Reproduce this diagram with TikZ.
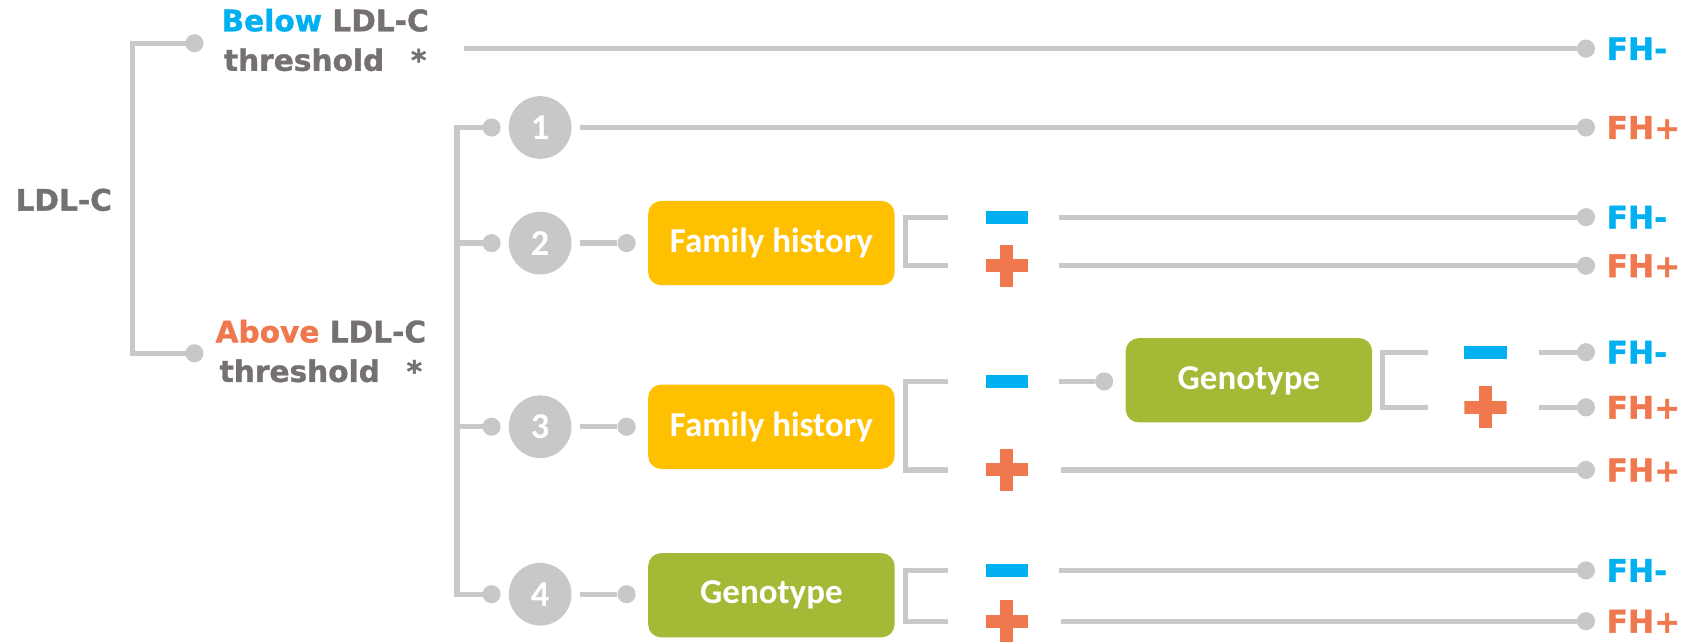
\documentclass[tikz,border=0pt]{standalone}
\usepackage{fontspec}
\usepackage{tikz}
\usetikzlibrary{calc}
\newfontfamily\lblfont{DejaVu Sans}[BoldFeatures={FakeBold=1.2}]
\newfontfamily\boxfont{Carlito}
\definecolor{lgrey}{HTML}{C8C8C8}
\definecolor{dgrey}{HTML}{767171}
\definecolor{fhblue}{HTML}{00B0F0}
\definecolor{fhorange}{HTML}{F0784F}
\definecolor{fhyellow}{HTML}{FFC000}
\definecolor{fhgreen}{HTML}{A5B936}
\tikzset{
  conn/.style={draw=lgrey, line width=0.12cm},
  dot/.style={circle, fill=lgrey, inner sep=0, minimum size=0.42cm},
  numcirc/.style={circle, fill=lgrey, inner sep=0, minimum size=1.45cm, text=white,
    font=\boxfont\bfseries\fontsize{24}{24}\selectfont},
  fhbox/.style={rounded corners=0.3cm, fill=fhyellow, minimum width=5.7cm, minimum height=1.95cm,
    text=white, font=\boxfont\bfseries\fontsize{23}{23}\selectfont},
  genbox/.style={fhbox, fill=fhgreen},
  lbl/.style={text=dgrey, font=\lblfont\bfseries\fontsize{19.5}{26}\selectfont, align=center, inner sep=0},
  fhlbl/.style={anchor=west, inner sep=0, font=\lblfont\bfseries\fontsize{20.5}{20.5}\selectfont},
  minussign/.style={fill=fhblue, inner sep=0, minimum width=0.975cm, minimum height=0.3cm},
  plussign/.style={inner sep=0, minimum size=0.975cm, path picture={
    \fill[fhorange] ([yshift=-0.15cm]path picture bounding box.west) rectangle ([yshift=0.15cm]path picture bounding box.east);
    \fill[fhorange] ([xshift=-0.15cm]path picture bounding box.south) rectangle ([xshift=0.15cm]path picture bounding box.north);}}
}

\begin{document}
\begin{tikzpicture}[x=0.025cm, y=-0.025cm]
\useasboundingbox (0,0) rectangle (1568,594);
\node[lbl] (ldl)   at (59,185)  {LDL-C};
\node[lbl] (below) at (301,37)  {\textcolor{fhblue}{Below} LDL-C\\threshold\hspace{0.9em}*};
\node[lbl] (above) at (297,325) {\textcolor{fhorange}{Above} LDL-C\\threshold\hspace{0.9em}*};
\node[dot] (dbelow) at (180,40)  {};
\node[dot] (dabove) at (180,327) {};
\coordinate (split) at (123,185);
\draw[conn] (dbelow.center) -| (split) |- (dabove.center);

% end points on the right
\foreach \n/\y/\t/\c in {b/45/-/fhblue, 1/118/+/fhorange, 2m/201/-/fhblue, 2p/246/+/fhorange,
  3mm/326/-/fhblue, 3mp/377/+/fhorange, 3p/435/+/fhorange, 4m/528/-/fhblue, 4p/575/+/fhorange}
{
  \node[dot] (e\n) at (1468,\y) {};
  \node[fhlbl, text=\c] (fh\n) at (1487,\y) {FH\t};
}
\draw[conn] ($(below.east |- eb)+(32,0)$) -- (eb);

% the four criteria
\foreach \i/\y in {1/118, 2/225, 3/395, 4/550}
{
  \node[dot] (s\i) at (455,\y) {};
  \node[numcirc] (c\i) at (500,\y) {\i};
}
\coordinate (split2) at (423,300);
\draw[conn] (s1.center) -| (split2) |- (s4.center);
\draw[conn] (s2.center) -- (s2.center -| split2);
\draw[conn] (s3.center) -- (s3.center -| split2);
\draw[conn] ([xshift=0.2cm]c1.east) -- (e1);

\node[fhbox]  (hist2) at (714,225) {Family history};
\node[fhbox]  (hist3) at (714,395) {Family history};
\node[genbox] (gen4)  at (714,551) {Genotype};
\foreach \i in {2,3,4}
{
  \node[dot] (h\i) at (580,0 |- c\i) {};
  \draw[conn] ([xshift=0.2cm]c\i.east) -- (h\i);
}

\foreach \k/\ym/\yp in {2/201/246, 3/353/435, 4/528/575}
{
  \node[minussign] (m\k) at (932,\ym) {};
  \node[plussign]  (p\k) at (932,\yp) {};
  \draw[conn] ([xshift=-0.86cm]m\k.west) -- ++(-40,0) |- ([xshift=-0.86cm]p\k.west);
}
\draw[conn] ([xshift=0.7cm]m2.east) -- (e2m);
\draw[conn] ([xshift=0.7cm]p2.east) -- (e2p);
\draw[conn] ([xshift=0.75cm]p3.east) -- (e3p);
\draw[conn] ([xshift=0.7cm]m4.east) -- (e4m);
\draw[conn] ([xshift=0.75cm]p4.east) -- (e4p);

% genotype after a negative family history
\node[dot] (g3) at (1022,353) {};
\node[genbox] (gen3) at (1156,352) {Genotype};
\draw[conn] ([xshift=0.7cm]m3.east) -- (g3);
\node[minussign] (m3m) at (1375,326) {};
\node[plussign]  (m3p) at (1375,377) {};
\draw[conn] ([xshift=-0.84cm]m3m.west) -- ++(-42,0) |- ([xshift=-0.84cm]m3p.west);
\draw[conn] ([xshift=0.74cm]m3m.east) -- (e3mm);
\draw[conn] ([xshift=0.74cm]m3p.east) -- (e3mp);
\end{tikzpicture}
\end{document}
